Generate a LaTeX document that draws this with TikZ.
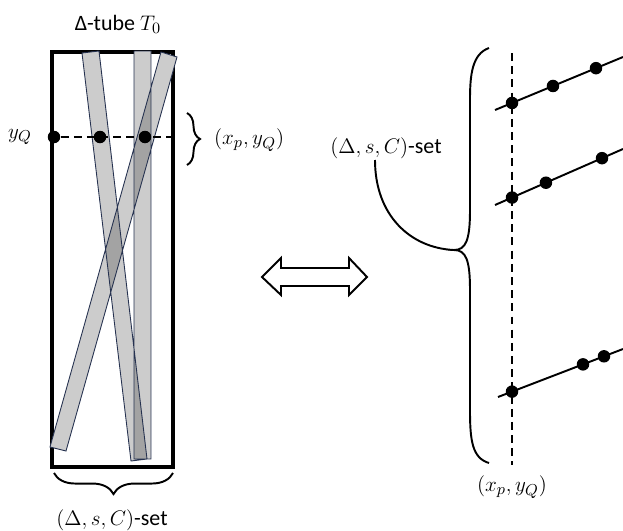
\documentclass[tikz,border=0pt]{standalone}
\usepackage{fontspec}
\setmainfont{Carlito}
\usepackage{amsmath,amssymb}
\usetikzlibrary{decorations.pathreplacing}

\definecolor{tubeedge}{RGB}{38,50,80}
\tikzset{
  dot/.style={circle,fill=black,inner sep=0pt,minimum size=0.25cm},
  tubeshade/.style={fill=black,fill opacity=0.2},
  tubeedge/.style={draw=tubeedge,line width=0.5pt},
  dashln/.style={line width=1.2pt,dash pattern=on 4.5pt off 3pt},
  lbl/.style={font=\fontsize{12.5}{15}\selectfont}
}
\def\tubeA{(134,51) -- (151,51) -- (151,459) -- (134,459) -- cycle}
\def\tubeB{(82,53) -- (99,51) -- (147,459) -- (131,461) -- cycle}
\def\tubeC{(161,52) -- (177,57) -- (66,451) -- (50,447) -- cycle}

\begin{document}
\begin{tikzpicture}[x=0.02cm,y=-0.02cm]
    \useasboundingbox (0,0) rectangle (623,531);
    % left: the tube and its subtubes
    \node[lbl] (title) at (118,24) {Δ-tube $T_0$};
    \draw[line width=2pt] (52,52) rectangle (173,467);
    \fill[white] \tubeA \tubeB \tubeC;
    \fill[tubeshade] \tubeA;
    \fill[tubeshade] \tubeB;
    \fill[tubeshade] \tubeC;
    \draw[tubeedge] \tubeA \tubeB \tubeC;
    \node[dot] (q0) at (54,137) {};
    \node[dot] (q1) at (100,137) {};
    \node[dot] (q2) at (145,137) {};
    \coordinate (qe) at (173,137);
    \draw[dashln] (q0) -- (qe);
    \node[lbl] (yq) at (20,137) {$y_Q$};
    \draw[line width=1.1pt,decorate,decoration={brace,amplitude=7.4pt}] (187,113) -- (187,165);
    \node[lbl,anchor=west] (pt) at (208,140) {$(x_p,y_Q)$};
    \draw[line width=1.1pt,decorate,decoration={brace,amplitude=12pt}] (173,473) -- (54,473);
    \node[lbl] (setl) at (112,520) {$(\Delta,s,C)$-set};
    % the double arrow
    \draw[line width=1.1pt] (262,277) -- (281,258) -- (281,268) -- (349,268) -- (349,258)
      -- (367,277) -- (349,295) -- (349,286) -- (281,286) -- (281,295) -- cycle;
    % right: the lines through (x_p,y_Q)
    \coordinate (vt) at (512,53);
    \coordinate (vb) at (512,465);
    \draw[dashln] (vt) -- (vb);
    \node[lbl] (ptr) at (512,487) {$(x_p,y_Q)$};
    \coordinate (s1) at (495,110);
    \coordinate (e1) at (623,57);
    \draw[line width=1.1pt] (s1) -- (e1)
      node[dot,pos=0.133] (d11) {} node[dot,pos=0.453] (d12) {} node[dot,pos=0.789] (d13) {};
    \coordinate (s2) at (495,205);
    \coordinate (e2) at (623,149);
    \draw[line width=1.1pt] (s2) -- (e2)
      node[dot,pos=0.133] (d21) {} node[dot,pos=0.398] (d22) {} node[dot,pos=0.836] (d23) {};
    \coordinate (s3) at (498,397);
    \coordinate (e3) at (623,349);
    \draw[line width=1.1pt] (s3) -- (e3)
      node[dot,pos=0.112] (d31) {} node[dot,pos=0.68] (d32) {} node[dot,pos=0.848] (d33) {};
    % big brace
    \coordinate (tip) at (454,250);
    \draw[line width=1.1pt] (489,48) .. controls (472,54) and (470,75) .. (470,100)
      -- (470,210) .. controls (470,240) and (466,250) .. (tip)
      .. controls (466,250) and (470,260) .. (470,290)
      -- (470,410) .. controls (470,440) and (472,458) .. (489,463);
    \node[lbl] (setr) at (386,148) {$(\Delta,s,C)$-set};
    \coordinate (cs) at (375,160);
    \draw[line width=1.1pt] (cs) .. controls (375,215) and (410,248) .. (tip);
  \end{tikzpicture}
\end{document}
